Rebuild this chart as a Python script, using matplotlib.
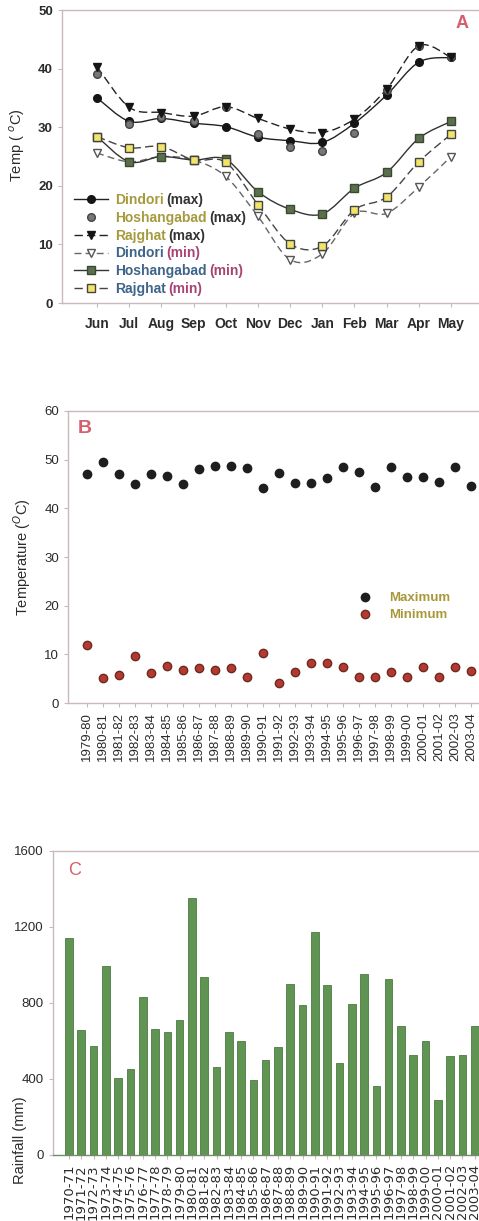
import numpy as np
import matplotlib.pyplot as plt
from matplotlib.path import Path
from matplotlib.patches import PathPatch
from matplotlib.lines import Line2D

plt.rcParams['font.family'] = ['Liberation Sans', 'DejaVu Sans']

# monthly temperatures (degC)
months = ['Jun', 'Jul', 'Aug', 'Sep', 'Oct', 'Nov', 'Dec', 'Jan', 'Feb', 'Mar', 'Apr', 'May']
dindori_max = [35.0, 31.0, 31.5, 30.7, 30.1, 28.3, 27.7, 27.4, 30.7, 35.5, 41.1, 41.9]
hoshangabad_max = [39.1, 30.6, 31.7, 31.1, 33.5, 28.8, 26.7, 26.0, 29.1, 36.3, 43.8, 41.9]
rajghat_max = [40.3, 33.4, 32.5, 31.9, 33.5, 31.5, 29.7, 29.1, 31.4, 36.5, 43.9, 41.9]
dindori_min = [25.6, 24.1, 25.0, 24.4, 21.6, 14.8, 7.4, 8.4, 15.3, 15.3, 19.8, 25.0]
hoshangabad_min = [28.4, 24.1, 25.0, 24.4, 24.5, 19.0, 16.0, 15.2, 19.6, 22.3, 28.1, 31.0]
rajghat_min = [28.4, 26.5, 26.7, 24.4, 24.0, 16.8, 10.1, 9.7, 15.9, 18.1, 24.1, 28.8]

# yearly extremes (degC)
years_b = ['1979-80', '1980-81', '1981-82', '1982-83', '1983-84', '1984-85', '1985-86',
           '1986-87', '1987-88', '1988-89', '1989-90', '1990-91', '1991-92', '1992-93',
           '1993-94', '1994-95', '1995-96', '1996-97', '1997-98', '1998-99', '1999-00',
           '2000-01', '2001-02', '2002-03', '2003-04']
t_maximum = [47.0, 49.5, 47.0, 45.0, 47.1, 46.6, 45.1, 48.1, 48.7, 48.7, 48.2, 44.2, 47.3,
             45.2, 45.3, 46.3, 48.4, 47.4, 44.3, 48.4, 46.4, 46.4, 45.4, 48.4, 44.5]
t_minimum = [12.0, 5.1, 5.7, 9.6, 6.1, 7.7, 6.7, 7.1, 6.7, 7.3, 5.3, 10.3, 4.2,
             6.3, 8.3, 8.3, 7.4, 5.3, 5.3, 6.4, 5.4, 7.4, 5.4, 7.5, 6.5]

# annual rainfall (mm)
years_c = ['1970-71', '1971-72', '1972-73', '1973-74', '1974-75', '1975-76', '1976-77',
           '1977-78', '1978-79', '1979-80', '1980-81', '1981-82', '1982-83', '1983-84',
           '1984-85', '1985-86', '1986-87', '1987-88', '1988-89', '1989-90', '1990-91',
           '1991-92', '1992-93', '1993-94', '1994-95', '1995-96', '1996-97', '1997-98',
           '1998-99', '1999-00', '2000-01', '2001-02', '2002-03', '2003-04']
rainfall = [1143, 658, 574, 995, 405, 453, 830, 665, 647, 709, 1354, 938, 461, 649,
            600, 395, 498, 567, 902, 788, 1175, 895, 482, 793, 954, 363, 926, 679,
            526, 600, 289, 519, 526, 679]

spine_col = '#c9b9bc'
text_col = '#2b2b2b'
label_red = '#d4606e'


def smooth_path(x, y):
    # Catmull-Rom curve through the points, as cubic Bezier segments
    pts = np.column_stack([x, y]).astype(float)
    n = len(pts)
    verts = [pts[0]]
    codes = [Path.MOVETO]
    for i in range(n - 1):
        p0 = pts[i - 1] if i > 0 else pts[i]
        p1, p2 = pts[i], pts[i + 1]
        p3 = pts[i + 2] if i + 2 < n else pts[i + 1]
        verts += [p1 + (p2 - p0) / 6, p2 - (p3 - p1) / 6, p2]
        codes += [Path.CURVE4] * 3
    return Path(verts, codes)


def style_axes(ax):
    for s in ['top', 'left', 'bottom']:
        ax.spines[s].set_color(spine_col)
        ax.spines[s].set_linewidth(1.0)
    ax.spines['right'].set_visible(False)
    ax.tick_params(direction='out', colors=spine_col, labelcolor=text_col, length=3)


fig = plt.figure(figsize=(4.79, 12.21), dpi=100)

# ---- A: monthly max/min temperature
ax1 = fig.add_axes([0.1294, 0.7518, 0.8706, 0.24])
x = np.arange(len(months))
olive = '#a69a3e'
blue = '#3f6489'
magenta = '#a84373'
series = [
    ('Dindori', '(max)', dindori_max, olive, '#333333',
     dict(marker='o', mfc='#151515', mec='#151515', ms=5.5), dict(color='#222222', ls='-')),
    ('Hoshangabad', '(max)', hoshangabad_max, olive, '#333333',
     dict(marker='o', mfc='#777777', mec='#444444', ms=5.5), None),
    ('Rajghat', '(max)', rajghat_max, olive, '#333333',
     dict(marker='v', mfc='#151515', mec='#151515', ms=6), dict(color='#222222', ls=(0, (6, 3)))),
    ('Dindori', '(min)', dindori_min, blue, magenta,
     dict(marker='v', mfc='white', mec='#555555', ms=5.5), dict(color='#666666', ls=(0, (5, 3)))),
    ('Hoshangabad', '(min)', hoshangabad_min, blue, magenta,
     dict(marker='s', mfc='#5b6f4c', mec='#3a4a30', ms=5.5), dict(color='#333333', ls='-')),
    ('Rajghat', '(min)', rajghat_min, blue, magenta,
     dict(marker='s', mfc='#f2e46a', mec='#444444', ms=5.5), dict(color='#444444', ls=(0, (6, 3)))),
]
handles = []
for name, suffix, vals, ncol, scol, mk, ln in series:
    if ln is not None:
        ax1.add_patch(PathPatch(smooth_path(x, vals), fill=False, ec=ln['color'],
                                lw=1.0, ls=ln['ls'], zorder=2))
    ax1.plot(x, vals, ls='none', zorder=3, **mk)
    handles.append(Line2D([], [], color=ln['color'] if ln else 'none',
                          ls=ln['ls'] if ln else 'none', lw=1.0, **mk))

ax1.set_xlim(-1.09, 11.87)
ax1.set_ylim(0, 50)
ax1.set_yticks(range(0, 51, 10))
ax1.set_xticks(x)
ax1.set_xticklabels(months, fontsize=10, fontweight='bold')
for lab, c in zip(ax1.get_xticklabels(), ['#2b2b2b'] * 3 + ['#4d6e48'] + ['#2b2b2b'] * 5 +
                  ['#4d6e48', '#2b2b2b', '#4d6e48']):
    lab.set_color(c)
for lab in ax1.get_yticklabels():
    lab.set_fontsize(9.5)
    lab.set_fontweight('bold')
ax1.tick_params(axis='x', pad=7)
style_axes(ax1)
ax1.set_ylabel('Temp ( $^{o}$C)', fontsize=10.5, color=text_col)
ax1.yaxis.set_label_coords(-0.084, 0.54)
ax1.text(0.975, 0.955, 'A', transform=ax1.transAxes, fontsize=13, color=label_red,
         ha='right', va='center', fontweight='bold')

leg = ax1.legend(handles, [s[0] for s in series], loc='upper left',
                 bbox_to_anchor=(0.03, 0.375), frameon=False, fontsize=10,
                 handlelength=2.4, handletextpad=0.5, labelspacing=0.27,
                 borderaxespad=0, borderpad=0)
for txt, s in zip(leg.get_texts(), series):
    txt.set_color(s[3])
    txt.set_fontweight('bold')

# ---- B: yearly maximum and minimum
ax2 = fig.add_axes([0.142, 0.4242, 0.858, 0.2392])
xb = np.arange(len(years_b))
ax2.plot(xb, t_maximum, ls='none', marker='o', ms=6, mfc='#1e1e1e', mec='#1e1e1e',
         label='Maximum')
ax2.plot(xb, t_minimum, ls='none', marker='o', ms=6, mfc='#b4392f', mec='#6e2a22',
         label='Minimum')
ax2.set_xlim(-1.2, 24.5)
ax2.set_ylim(0, 60)
ax2.set_yticks(range(0, 61, 10))
ax2.set_xticks(xb)
ax2.set_xticklabels(years_b, rotation=90, fontsize=9.5)
for lab in ax2.get_xticklabels():
    if lab.get_text() in ('1989-90', '1990-91', '1995-96'):
        lab.set_color('#3f6a3a')
for lab in ax2.get_yticklabels():
    lab.set_fontsize(9.5)
style_axes(ax2)
ax2.set_ylabel('Temperature ($^{O}$C)', fontsize=10.5, color=text_col)
ax2.yaxis.set_label_coords(-0.085, 0.5)
ax2.text(0.04, 0.94, 'B', transform=ax2.transAxes, fontsize=14, color=label_red,
         ha='center', va='center', fontweight='bold')
leg2 = ax2.legend(loc='upper left', bbox_to_anchor=(0.704, 0.38), frameon=False,
                  fontsize=9.5, handlelength=1.2, handletextpad=1.2, labelspacing=0.35,
                  borderaxespad=0, borderpad=0)
for txt in leg2.get_texts():
    txt.set_color('#a8983a')
    txt.set_fontweight('bold')

# ---- C: annual rainfall
ax3 = fig.add_axes([0.1106, 0.0541, 0.8894, 0.249])
xc = np.arange(len(years_c))
ax3.bar(xc, rainfall, width=0.62, color='#5f9453', edgecolor='#4c7a42', linewidth=0.6)
ax3.set_xlim(-1.3, 33.35)
ax3.set_ylim(0, 1600)
ax3.set_yticks(range(0, 1601, 400))
ax3.set_xticks(xc)
ax3.set_xticklabels(years_c, rotation=90, fontsize=9.5, family='DejaVu Sans')
for lab in ax3.get_yticklabels():
    lab.set_fontsize(9.5)
style_axes(ax3)
ax3.spines['bottom'].set_color('#6f8f66')
ax3.set_ylabel('Rainfall (mm)', fontsize=10.5, color=text_col)
ax3.yaxis.set_label_coords(-0.062, 0.05)
ax3.text(0.05, 0.935, 'C', transform=ax3.transAxes, fontsize=13, color=label_red,
         ha='center', va='center')

# coloured "(max)" / "(min)" after each station name in panel A's legend
fig.canvas.draw()
renderer = fig.canvas.get_renderer()
inv = fig.transFigure.inverted()
for txt, s in zip(leg.get_texts(), series):
    bb = txt.get_window_extent(renderer)
    fx, fy = inv.transform((bb.x1 + 3, (bb.y0 + bb.y1) / 2))
    fig.text(fx, fy, s[1], fontsize=10, fontweight='bold', color=s[4],
             ha='left', va='center')

fig.savefig('out.png', dpi=100)
